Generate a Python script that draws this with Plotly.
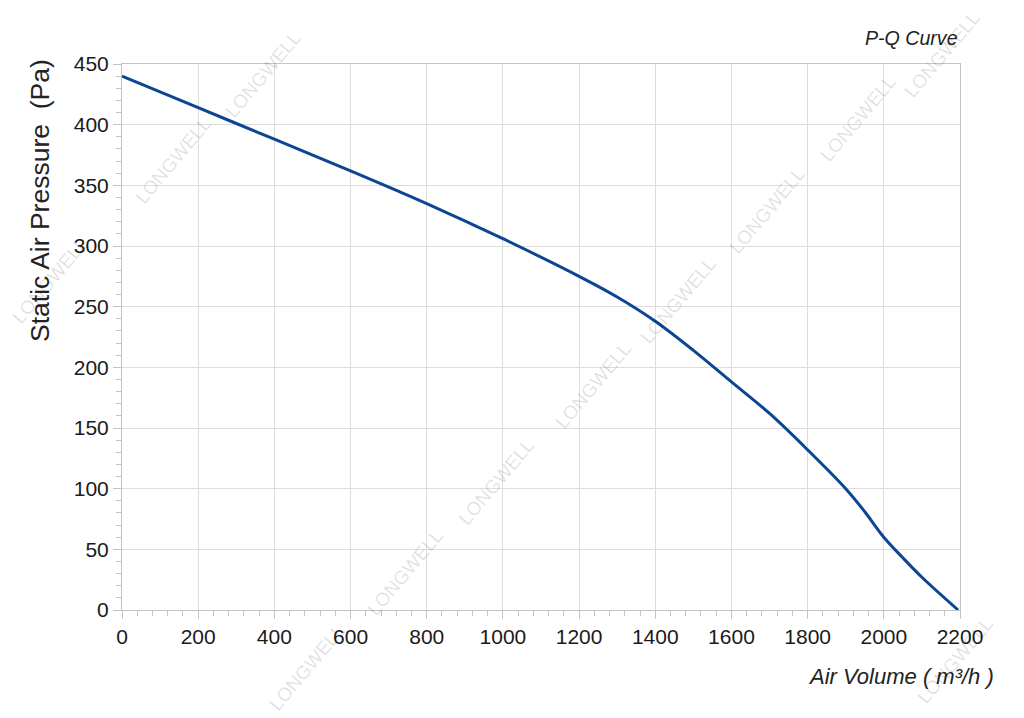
import plotly.graph_objects as go

# Data
air_volume = [0, 200, 400, 600, 800, 1000, 1200, 1300, 1400, 1500, 1600, 1700, 1800, 1900, 1950, 2000, 2050, 2100, 2195]
static_pressure = [440, 414, 388, 362, 335, 306, 275, 258, 238, 214, 188, 162, 132, 100, 81, 60, 43, 27, 0]

x_ticks = [0, 200, 400, 600, 800, 1000, 1200, 1400, 1600, 1800, 2000, 2200]
y_ticks = [0, 50, 100, 150, 200, 250, 300, 350, 400, 450]

title_text = "P-Q Curve"
x_title = "Air Volume ( m³/h )"
y_title = "Static Air Pressure \u00a0(Pa)"
watermark = "LONGWELL"

# watermark centers in page pixels
wm_pixels = [(50, 280), (173, 160), (263, 74),
             (307, 667), (405, 572), (497, 482), (593, 385), (678, 300),
             (767, 210), (858, 118), (942, 54), (955, 660)]

OFF = 8  # default body margin of the page
W, H = 1016, 710
PL, PR, PT, PB = 122, 960, 64, 610  # plot area in page pixels
L, T = PL - OFF, PT - OFF
R = W - (PR - OFF)
B = H - (PB - OFF)
pw, ph = PR - PL, PB - PT

def px_to_paper(px, py):
    return (px - PL) / pw, (PB - py) / ph

FONT = "Liberation Sans, Arial, Helvetica, sans-serif"

fig = go.Figure()
fig.add_trace(go.Scatter(
    x=air_volume, y=static_pressure, mode="lines",
    line=dict(color="#0c4594", width=3, shape="spline", smoothing=1.0),
    hoverinfo="x+y", showlegend=False,
))

annotations = []
for (px, py) in wm_pixels:
    ax, ay = px_to_paper(px, py)
    annotations.append(dict(
        text=watermark, xref="paper", yref="paper", x=ax, y=ay,
        showarrow=False, textangle=-50,
        font=dict(family=FONT, size=19, color="rgba(0,0,0,0.12)"),
        xanchor="center", yanchor="middle",
    ))

tx, ty = px_to_paper(960, 38)
annotations.append(dict(text=title_text, xref="paper", yref="paper", x=tx, y=ty,
                        showarrow=False, xanchor="right", yanchor="middle",
                        font=dict(family=FONT, size=19.6, color="#222", style="italic")))
xx, xy = px_to_paper(996, 676)
annotations.append(dict(text=x_title, xref="paper", yref="paper", x=xx, y=xy,
                        showarrow=False, xanchor="right", yanchor="middle",
                        font=dict(family=FONT, size=22, color="#222", style="italic")))
yx, yy = px_to_paper(40, 201)
annotations.append(dict(text=y_title, xref="paper", yref="paper", x=yx, y=yy,
                        showarrow=False, xanchor="center", yanchor="middle", textangle=-90,
                        font=dict(family=FONT, size=26.5, color="#222")))

axis_common = dict(
    showgrid=True, gridcolor="#dddddd", gridwidth=1,
    showline=True, linecolor="#c4c4c4", linewidth=1, mirror=True,
    ticks="outside", ticklen=8, tickcolor="#c4c4c4", tickwidth=1,
    tickfont=dict(family=FONT, size=21, color="#1a1a1a"),
    zeroline=False, fixedrange=True,
)

fig.update_layout(
    width=W, height=H,
    margin=dict(l=L, r=R, t=T, b=B, pad=0),
    paper_bgcolor="white", plot_bgcolor="white",
    xaxis=dict(range=[0, 2200], tickvals=x_ticks, ticktext=[str(v) for v in x_ticks],
               minor=dict(dtick=40, ticks="outside", ticklen=5, tickcolor="#c4c4c4", showgrid=False),
               **axis_common),
    yaxis=dict(range=[0, 450], tickvals=y_ticks, ticktext=[str(v) for v in y_ticks],
               minor=dict(dtick=10, ticks="outside", ticklen=5, tickcolor="#c4c4c4", showgrid=False),
               **axis_common),
    annotations=annotations,
)

fig.write_html("out.html")
